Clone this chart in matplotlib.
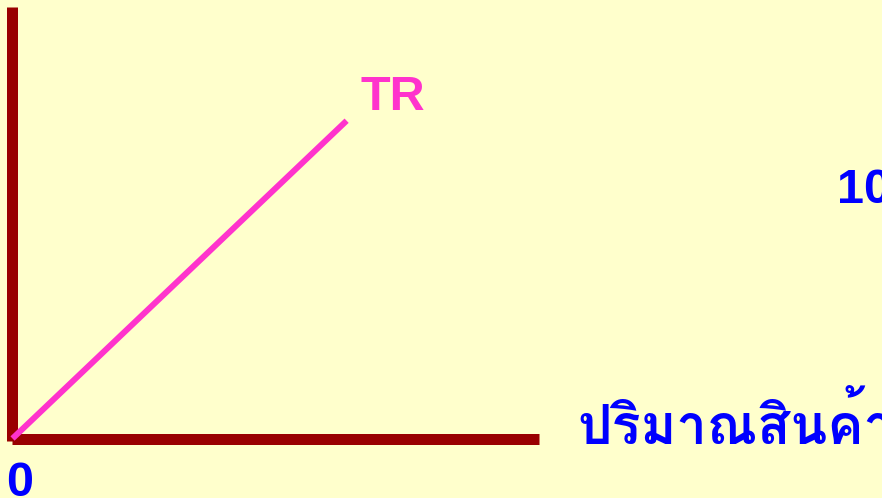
import matplotlib
matplotlib.use("Agg")
import matplotlib.pyplot as plt

# Data
quantity = [0, 6.34]
total_revenue = [0, 6.03]
axis_x_end = 10.0
label_tr = "TR"
label_qty = "ปริมาณสินค้า"
label_ten = "10"
label_zero = "0"

W, H = 882, 498
DPI = 100
S = 52.7  # px per data unit
ox, oy = 12.5, 438.5  # origin in pixels (from top-left)

fig = plt.figure(figsize=(W / DPI, H / DPI), dpi=DPI)
fig.patch.set_facecolor("#FFFFCC")
ax = fig.add_axes([0, 0, 1, 1])
ax.set_facecolor("#FFFFCC")
ax.set_xlim(-ox / S, (W - ox) / S)
ax.set_ylim(-(H - oy) / S, oy / S)
ax.axis("off")


def px(x, y):
    return (x - ox) / S, (oy - y) / S


pt = 72 / DPI
top = (oy - 7) / S
ax.plot([0, 0], [-0.05, top], color="#990000", lw=11 * pt, solid_capstyle="butt")
ax.plot([0, axis_x_end], [0, 0], color="#990000", lw=11 * pt, solid_capstyle="butt")
ax.plot(quantity, total_revenue, color="#FF33CC", lw=6 * pt, solid_capstyle="butt")

fam = ["Liberation Sans", "DejaVu Sans"]
ax.text(*px(361, 110), label_tr, color="#FF33CC",
        fontsize=35, fontweight="bold", family=fam, ha="left", va="baseline")
ax.text(*px(837, 203), label_ten, color="#0000FF",
        fontsize=35, fontweight="bold", family=fam, ha="left", va="baseline")
ax.text(*px(6, 496), label_zero, color="#0000FF",
        fontsize=35, fontweight="bold", family=fam, ha="left", va="baseline")
ax.text(*px(577, 444), label_qty, color="#0000FF",
        fontsize=39, fontweight="bold",
        family=["Loma", "Noto Sans Thai Looped", "Noto Sans Thai", "DejaVu Sans"],
        ha="left", va="baseline")

fig.savefig("out.png", dpi=DPI, facecolor=fig.get_facecolor())
